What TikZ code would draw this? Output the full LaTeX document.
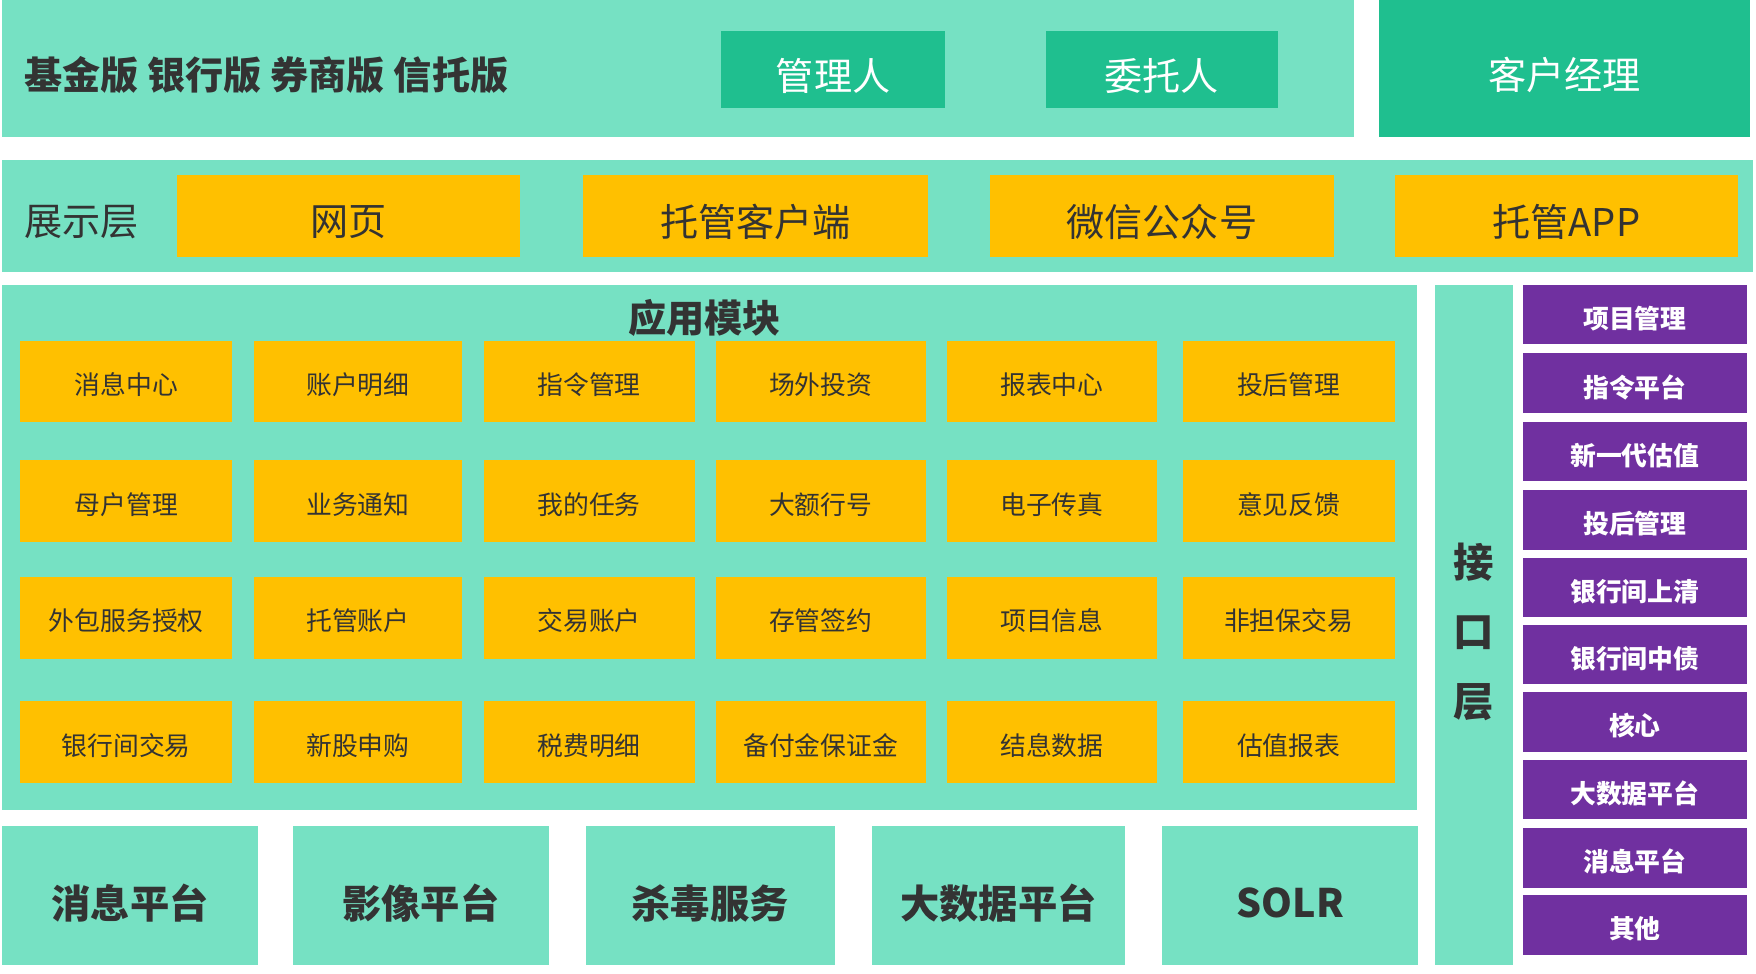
\documentclass[tikz,border=0pt]{standalone}
\usepackage{fontspec}
\setmainfont{Noto Sans CJK SC}
\definecolor{lteal}{RGB}{118,225,195}
\definecolor{dteal}{RGB}{31,191,143}
\definecolor{gold}{RGB}{255,192,0}
\definecolor{violet}{RGB}{112,48,160}
\definecolor{ink}{RGB}{51,51,51}
\tikzset{every picture/.style={line width=0.75pt}}
\begin{document}
\begin{tikzpicture}[x=1pt,y=-1pt,
  band/.style={fill=lteal}]
\useasboundingbox (0,0) rectangle (1565,868);

% top row
\fill[band] (2,0) rectangle (1207,122);
\node[anchor=west,text=ink,font=\fontsize{34}{36}\selectfont\bfseries] (versions) at (18,67) {基金版 银行版 券商版 信托版};
\fill[dteal] (643,28) rectangle (842,96);
\node[text=white,font=\fontsize{34}{36}\selectfont] (manager) at (742.5,68) {管理人};
\fill[dteal] (932,28) rectangle (1139,96);
\node[text=white,font=\fontsize{34}{36}\selectfont] (client) at (1035.5,68) {委托人};
\fill[dteal] (1229,0) rectangle (1560,122);
\node[text=white,font=\fontsize{34}{36}\selectfont] (account) at (1394.5,67) {客户经理};

% presentation layer
\fill[band] (2,143) rectangle (1562,242);
\node[anchor=west,text=ink,font=\fontsize{34}{36}\selectfont] (show) at (18,198) {展示层};
\foreach \xa/\xb/\txt [count=\i] in {158/463/网页,520/827/托管客户端,882/1189/微信公众号,1243/1549/托管APP}{
  \fill[gold] (\xa,156) rectangle (\xb,229);
  \node[text=ink,font=\fontsize{34}{36}\selectfont] (show\i) at ({(\xa+\xb)/2},198) {\txt};
}

% application modules
\fill[band] (2,254) rectangle (1263,722);
\node[text=ink,font=\fontsize{34}{36}\selectfont\bfseries] (apptitle) at (628,283) {应用模块};
\foreach \row/\ya/\yb/\names in {
  1/304/376/{消息中心,账户明细,指令管理,场外投资,报表中心,投后管理},
  2/410/483/{母户管理,业务通知,我的任务,大额行号,电子传真,意见反馈},
  3/514/587/{外包服务授权,托管账户,交易账户,存管签约,项目信息,非担保交易},
  4/625/698/{银行间交易,新股申购,税费明细,备付金保证金,结息数据,估值报表}}{
  \foreach \txt [count=\c] in \names {
    \pgfmathsetmacro{\xa}{{18,226,431,638,844,1054}[\c-1]}
    \pgfmathsetmacro{\xb}{{207,412,619,825,1031,1243}[\c-1]}
    \pgfmathsetmacro{\tw}{\xb-\xa-36}
    \fill[gold] (\xa,\ya) rectangle (\xb,\yb);
    \node[text=ink,font=\fontsize{23}{42}\selectfont,align=center,text width=\tw pt] (mod\row\c) at ({(\xa+\xb)/2},{(\ya+\yb)/2+3}) {\txt};
  }
}

% base platforms
\foreach \xa/\xb/\txt [count=\i] in {2/230/消息平台,261/489/影像平台,522/744/杀毒服务,777/1003/大数据平台,1036/1264/SOLR}{
  \fill[lteal] (\xa,736) rectangle (\xb,860);
  \node[text=ink,font=\fontsize{35}{36}\selectfont\bfseries] (base\i) at ({(\xa+\xb)/2},805) {\txt};
}

% interface layer
\fill[band] (1279,254) rectangle (1348,860);
\node[text=ink,font=\fontsize{36}{62}\selectfont\bfseries,align=center] (iface) at (1313.5,563) {接\\口\\层};
\foreach \y/\txt [count=\i] in {254/项目管理,315/指令平台,376/新一代估值,437/投后管理,497/银行间上清,557/银行间中债,617/核心,677/大数据平台,738/消息平台,798/其他}{
  \fill[violet] (1357,\y) rectangle (1557,\y+53);
  \node[text=white,font=\fontsize{23}{25}\selectfont\bfseries] (if\i) at (1457,\y+30) {\txt};
}
\end{tikzpicture}
\end{document}
